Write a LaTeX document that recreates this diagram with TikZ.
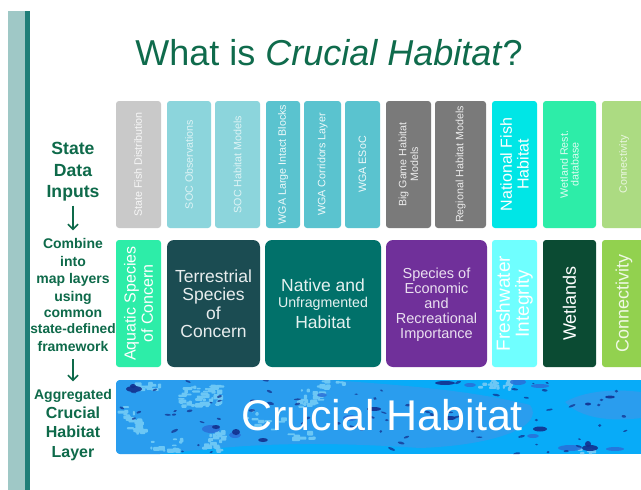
\documentclass[tikz,border=0pt]{standalone}
\usepackage{fontspec}
\setmainfont{Liberation Sans}
\usetikzlibrary{arrows.meta}
\definecolor{titlegreen}{HTML}{0F6B4C}
\definecolor{sidegreen}{HTML}{0E6A4A}
\definecolor{barlight}{HTML}{9FC8C6}
\definecolor{bardark}{HTML}{1F7E78}
\definecolor{cgrey}{HTML}{C9C9C9}
\definecolor{cpale}{HTML}{8CD5DC}
\definecolor{cteal}{HTML}{5AC3CF}
\definecolor{cdgrey}{HTML}{7A7A7A}
\definecolor{ccyan}{HTML}{00E6E6}
\definecolor{cmint}{HTML}{2DEDA8}
\definecolor{clime}{HTML}{ACDB82}
\definecolor{cterr}{HTML}{1B4C52}
\definecolor{cnative}{HTML}{01716A}
\definecolor{cpurple}{HTML}{70309A}
\definecolor{caqua}{HTML}{6FFFFF}
\definecolor{cwet}{HTML}{0B4B33}
\definecolor{cgreen}{HTML}{92D14F}
\definecolor{wbase}{HTML}{08ABF8}
\definecolor{wmid}{HTML}{2A9DEE}
\definecolor{wlight}{HTML}{6CC7F5}
\definecolor{wdeep}{HTML}{2A6FD8}
\definecolor{wdark}{HTML}{12308E}
\tikzset{
  x=1pt,y=-1pt,
  lbl/.style={rotate=90,align=center,text=#1,inner sep=0pt},
  side/.style={text=sidegreen,align=center,inner sep=0pt},
  flow/.style={draw=sidegreen,line width=1.5pt,-{Straight Barb[length=5pt,width=10pt]}},
  f/.style={font=\fontsize{#1}{#1}\selectfont},
  fb/.style={font=\fontsize{#1}{#1}\selectfont\bfseries,text height=.72*#1 pt,text depth=0pt},
  blot/.style={fill=wdark,opacity=.9}
}
\newcommand{\cardbox}[6]{%
  \fill[#6,rounded corners=3pt] (#2,#4) rectangle (#3,#5);}
\newcommand{\bigbox}[6]{%
  \fill[#6,rounded corners=7pt] (#2,#4) rectangle (#3,#5);}
\begin{document}
\begin{tikzpicture}
\useasboundingbox (0,0) rectangle (641,490);
\fill[white] (0,0) rectangle (641,490);
\fill[barlight] (7.5,11) rectangle (25,490);
\fill[bardark] (25,11) rectangle (30,490);
\node[text=titlegreen,f=36,inner sep=0pt] (title) at (329,53) {What is \textit{Crucial Habitat}?};

\cardbox{a1}{116}{161}{101}{228}{cgrey}
\cardbox{a2}{167}{211}{101}{228}{cpale}
\cardbox{a3}{215}{260}{101}{228}{cpale}
\cardbox{a4}{266}{300}{101}{228}{cteal}
\cardbox{a5}{304}{341}{101}{228}{cteal}
\cardbox{a6}{345}{380}{101}{228}{cteal}
\cardbox{a7}{386}{431}{101}{228}{cdgrey}
\cardbox{a8}{435}{486}{101}{228}{cdgrey}
\cardbox{a9}{492}{537}{101}{228}{ccyan}
\cardbox{a10}{543}{596}{101}{228}{cmint}
\cardbox{a11}{602}{650}{101}{228}{clime}

\cardbox{b1}{116}{161}{240}{367}{cmint}
\bigbox{b2}{167}{260}{240}{367}{cterr}
\bigbox{b3}{265}{381}{240}{367}{cnative}
\bigbox{b4}{386}{487}{240}{367}{cpurple}
\cardbox{b5}{492}{537}{240}{367}{caqua}
\cardbox{b6}{543}{596}{240}{367}{cwet}
\cardbox{b7}{602}{650}{240}{367}{cgreen}

\node[lbl=white!85!cgrey,f=10.7] (la1) at (138,164.5) {State Fish Distribution};
\node[lbl=white!70!cpale,f=10.7] (la2) at (189,164.5) {SOC Observations};
\node[lbl=white!70!cpale,f=10.7] (la3) at (237.5,164.5) {SOC Habitat Models};
\node[lbl=white!90!cteal,f=10.7] (la4) at (283,164.5) {WGA Large Intact Blocks};
\node[lbl=white!90!cteal,f=10.7] (la5) at (322.5,164.5) {WGA Corridors Layer};
\node[lbl=white!90!cteal,f=10.7] (la6) at (362.5,164.5) {WGA ESoC};
\node[lbl=white!85!cdgrey,f=10.7] (la7) at (408.5,164.5) {Big Game Habitat\\[1pt]Models};
\node[lbl=white!85!cdgrey,f=10.7] (la8) at (460.5,164.5) {Regional Habitat Models};
\node[lbl=white,f=16] (la9) at (514.5,164.5) {National Fish\\[.6pt]Habitat};
\node[lbl=white!85!cmint,f=10.7] (la10) at (569.5,164.5) {Wetland Rest.\\database};
\node[lbl=white!75!clime,f=10.7] (la11) at (624,164.5) {Connectivity};

\node[lbl=white,f=16] (lb1) at (138.5,303.5) {Aquatic Species\\[1.3pt]of Concern};
\node[text=white!90!cterr,f=17.5,align=center,inner sep=0pt] (lb2) at (213.5,303.5) {Terrestrial\\[1pt]Species\\[1pt]of\\[1pt]Concern};
\node[text=white!90!cnative,f=17.5,inner sep=0pt] (lb3a) at (323,285) {Native and};
\node[text=white!90!cnative,f=14.2,inner sep=0pt] (lb3b) at (323,304) {Unfragmented};
\node[text=white!90!cnative,f=17.5,inner sep=0pt] (lb3c) at (323,322) {Habitat};
\node[text=white!85!cpurple,f=14.5,align=center,inner sep=0pt] (lb4) at (436.5,305) {Species of\\[.5pt]Economic\\[.5pt]and\\[.5pt]Recreational\\[.5pt]Importance};
\node[lbl=white,f=19] (lb5) at (514.5,303.5) {Freshwater\\Integrity};
\node[lbl=white,f=18] (lb6) at (569.5,303.5) {Wetlands};
\node[lbl=white!85!cgreen,f=18] (lb7) at (624,303.5) {Connectivity};

% banner
\begin{scope}
\clip[rounded corners=4pt] (116,380) rectangle (660,454);
\fill[wbase] (116,380) rectangle (641,454);
% broad darker tone across the band
\fill[wmid] (116,380) -- (330,380) .. controls (400,385) and (470,390) .. (530,405) .. controls (545,425) and (500,445) .. (420,448) .. controls (300,440) and (240,445) .. (160,454) -- (116,454) -- cycle;
\fill[wmid] (565,402) .. controls (590,388) and (625,390) .. (641,392) -- (641,418) .. controls (610,422) and (580,418) .. (565,402) -- cycle;
\pgfmathsetseed{4217}
% pale mosaic clusters: centre x, centre y, spread x, spread y, lean, tiles
\foreach \cx/\cy/\sx/\sy/\lean/\cnt in {
 133/420/16/26/.55/34, 200/396/42/22/0/50, 150/386/30/8/0/10,
 215/442/18/20/-.5/24, 310/400/24/20/-.3/22, 303/436/24/6/0/8,
 330/386/34/10/0/10, 500/385/40/8/0/20, 585/452/18/6/0/6,
 165/445/40/12/0/14, 265/420/40/24/0/10}{
  \foreach \i in {1,...,\cnt}{
    \pgfmathsetmacro{\dy}{\sy*(rnd-.5)}
    \pgfmathsetmacro{\px}{\cx+\sx*(rnd-.5)+\lean*\dy}
    \pgfmathsetmacro{\py}{\cy+\dy}
    \pgfmathsetmacro{\pw}{2+6*rnd}
    \pgfmathsetmacro{\ph}{1.5+3.5*rnd}
    \fill[wlight,rounded corners=.8pt] (\px-\pw/2,\py-\ph/2) rectangle (\px+\pw/2,\py+\ph/2);
  }
}
% deeper blue patches
\foreach \px/\py/\pa/\pb in {
 211/429/9/4, 235/435/6/3, 322/395/5/2, 518/382/8/3, 540/386/9/2,
 570/448/12/3, 615/449/9/2, 533/436/6/2, 350/418/7/3, 470/385/6/2}{
  \fill[wdeep,opacity=.85] (\px,\py) ellipse ({\pa} and {\pb});
}
% small dark specks
\foreach \i in {1,...,70}{
  \pgfmathsetmacro{\px}{116+525*rnd}
  \pgfmathsetmacro{\py}{380+74*rnd}
  \pgfmathsetmacro{\pr}{-25+50*rnd}
  \fill[wdark,opacity=.75,rotate around={\pr:(\px,\py)}] (\px,\py) ellipse ({1.2+2.6*rnd} and {.7+.8*rnd});
}
% the largest dark blots
\foreach \px/\py/\pa/\pb in {
 134/389/8/3, 133/386/3/2, 263/440/5/2, 590/448/8/3, 588/444/3/3,
 445/383/10/2, 236/432/4/3, 374/409/7/2, 450/418/6/2, 540/429/7/2.5,
 610/397/5/1.5, 216/427/4/2, 588/404/3/1.5, 253/401/3/1.5}{
  \fill[blot] (\px,\py) ellipse ({\pa} and {\pb});
}
\end{scope}
\node[text=white,f=43,inner sep=0pt] (banner) at (382,415) {Crucial Habitat};

% side labels
\node[side,fb=17.6] (s1) at (73,148) {State};
\node[side,fb=17.6] (s2) at (73,170) {Data};
\node[side,fb=17.6] (s3) at (73,191) {Inputs};
\node[side,fb=14] (c1) at (73,243) {Combine};
\node[side,fb=14] (c2) at (73,261) {into};
\node[side,fb=14] (c3) at (73,278) {map layers};
\node[side,fb=14] (c4) at (73,296) {using};
\node[side,fb=14] (c5) at (73,312) {common};
\node[side,fb=13.7] (c6) at (73,329) {state-defined};
\node[side,fb=14] (c7) at (73,346) {framework};
\node[side,fb=14] (g1) at (73,394) {Aggregated};
\node[side,fb=16] (g2) at (73,413) {Crucial};
\node[side,fb=16] (g3) at (73,432) {Habitat};
\node[side,fb=16] (g4) at (73,452) {Layer};
\draw[flow,shorten <=8pt,shorten >=7.5pt] (s3.south) -- (c1.north);
\draw[flow,shorten <=8pt,shorten >=7.5pt] (c7.south) -- (g1.north);
\end{tikzpicture}
\end{document}
